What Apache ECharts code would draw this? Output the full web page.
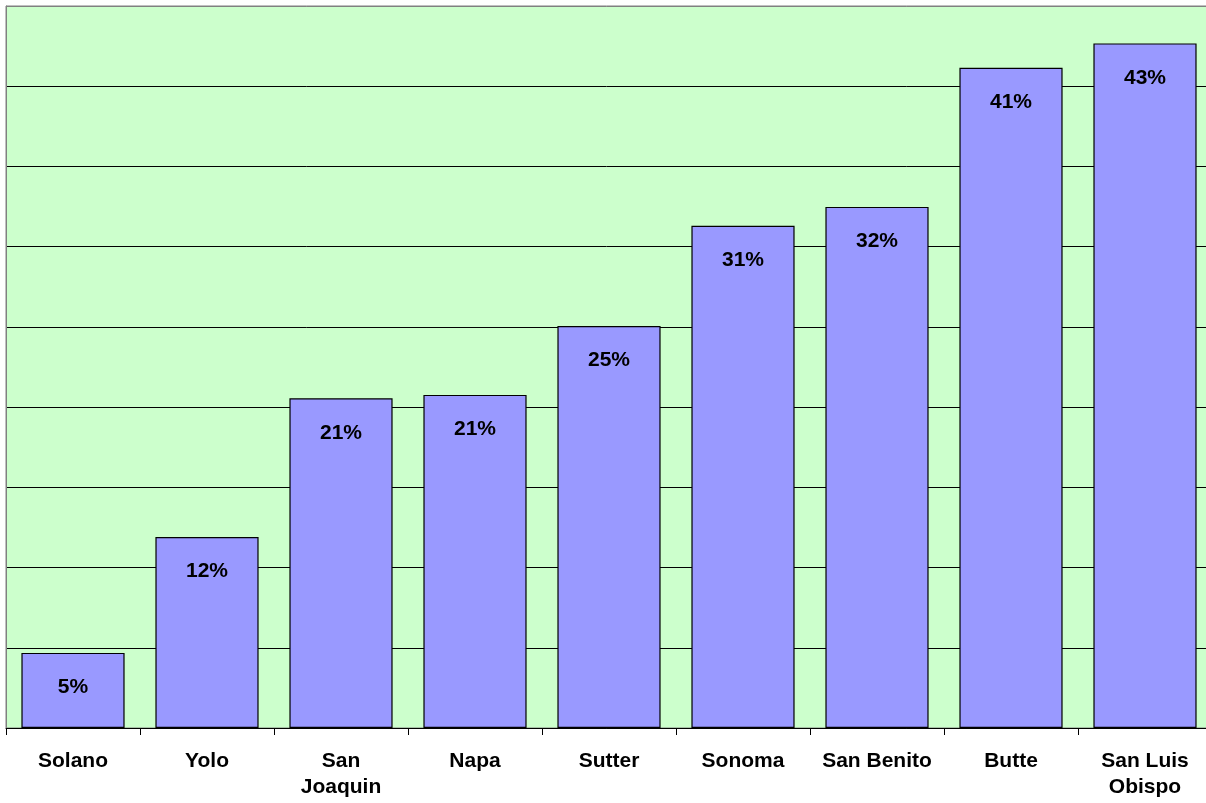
<!DOCTYPE html>
<html>
<head>
<meta charset="utf-8">
<script src="https://cdn.jsdelivr.net/npm/echarts@6/dist/echarts.min.js"></script>
<style>
  html, body { margin: 0; padding: 0; background: #ffffff; overflow: hidden; }
  #chart { width: 1206px; height: 803px; }
</style>
</head>
<body>
<div id="chart"></div>
<script>
// County names shown along the category axis
const counties = ['Solano', 'Yolo', 'San\nJoaquin', 'Napa', 'Sutter', 'Sonoma', 'San Benito', 'Butte', 'San Luis\nObispo'];
// Percentage per county
const shares = [4.68, 11.9, 20.55, 20.76, 25.06, 31.3, 32.48, 41.15, 42.67];
// Value axis range (percent)
const yMin = 0;
const yMax = 45;
const yStep = 5;

const font = '"Liberation Sans", Arial, sans-serif';

// Horizontal rules: black inside the plot, grey on the top edge
const ruleColors = [];
for (let v = yMin; v <= yMax; v += yStep) ruleColors.push(v === yMax ? '#808080' : '#000000');

const chart = echarts.init(document.getElementById('chart'), null, { renderer: 'canvas' });
chart.setOption({
  animation: false,
  backgroundColor: '#ffffff',
  grid: {
    left: 6, top: 6, right: -6, bottom: 75,
    outerBoundsMode: 'none',
    containLabel: false,
    show: true,
    backgroundColor: '#CCFFCC',
    borderColor: '#808080',
    borderWidth: 1
  },
  xAxis: {
    type: 'category',
    data: counties,
    axisLine: { lineStyle: { color: '#000000', width: 1 } },
    axisTick: { show: true, length: 7, lineStyle: { color: '#000000' } },
    axisLabel: {
      interval: 0,
      margin: 20,
      fontFamily: font,
      fontWeight: 'bold',
      fontSize: 21,
      lineHeight: 26,
      color: '#000000'
    }
  },
  yAxis: {
    type: 'value',
    min: yMin,
    max: yMax,
    interval: yStep,
    axisLine: { show: true, lineStyle: { color: '#808080', width: 1 } },
    axisTick: { show: false },
    axisLabel: { show: false },
    splitLine: { show: true, lineStyle: { color: ruleColors, width: 1 } }
  },
  series: [{
    type: 'bar',
    data: shares,
    barCategoryGap: '23%',
    itemStyle: { color: '#9999FF', borderColor: '#000000', borderWidth: 1.2 },
    label: {
      show: true,
      position: 'insideTop',
      distance: 24,
      fontFamily: font,
      fontWeight: 'bold',
      fontSize: 21,
      color: '#000000',
      formatter: p => Math.round(p.value) + '%'
    }
  }]
});
</script>
</body>
</html>
